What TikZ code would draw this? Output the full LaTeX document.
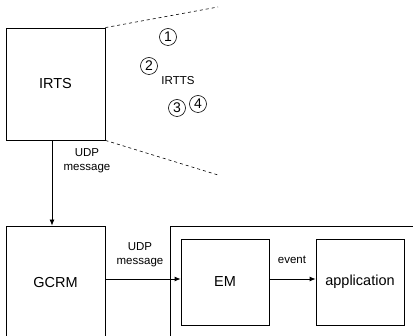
\documentclass[tikz,border=0pt]{standalone}
\usepackage{fontspec}
\setmainfont{Liberation Sans}
\usetikzlibrary{arrows.meta}

\begin{document}
\begin{tikzpicture}
[x=1pt, y=-1pt, every node/.style={inner sep=0pt},
 blockbox/.style={rectangle, draw=black, line width=0.8pt, font=\fontsize{14.5}{16}\selectfont},
 edgelabel/.style={align=center, font=\fontsize{11.5}{14}\selectfont},
 circnum/.style={circle, draw=black, line width=0.6pt, minimum size=17pt, font=\fontsize{14}{14}\selectfont},
 link/.style={line width=0.8pt, -{Latex[length=6pt, width=5pt]}}]
\useasboundingbox (0, 0) rectangle (413, 336);
\node (irts) [blockbox, minimum width=99pt, minimum height=112pt] at (55.5, 84) {IRTS};
\node (gcrm) [blockbox, minimum width=99pt, minimum height=124pt] at (55.5, 288) {};
\node (gcrmtext) [blockbox, draw=none] at (55.5, 283) {GCRM};
\node (frame) [blockbox, minimum width=260pt, minimum height=130pt] at (300, 291) {};
\node (em) [blockbox, minimum width=88pt, minimum height=86pt] at (225, 282) {EM};
\node (app) [blockbox, minimum width=88pt, minimum height=86pt] at (360, 282) {application};
% zoom-in of the IRTS box
\coordinate (zoomtop) at (218, 7);
\coordinate (zoombot) at (218, 175);
\draw [dashed, line width=0.6pt] (irts.north east) -- (zoomtop);
\draw [dashed, line width=0.6pt] (irts.south east) -- (zoombot);
\node (c1) [circnum] at (168, 37) {1};
\node (c2) [circnum] at (149, 66) {2};
\node (irtts) [edgelabel] at (178, 81) {IRTTS};
\node (c3) [circnum] at (177, 108) {3};
\node (c4) [circnum] at (198, 104) {4};
% messages
\draw [link] (irts.south) ++(-3.5pt, 0) coordinate (irtsout) -- (irtsout |- gcrm.north);
\node (udp1) [edgelabel] at (87, 161) {UDP\\message};
\coordinate (msgrow) at ([yshift=3pt]em.west);
\draw [link] (msgrow -| gcrm.east) -- (msgrow);
\node (udp2) [edgelabel] at (140, 255) {UDP\\message};
\draw [link] ([yshift=3pt]em.east) -- ([yshift=3pt]app.west);
\node (event) [edgelabel] at (292, 260) {event};
\end{tikzpicture}
\end{document}
